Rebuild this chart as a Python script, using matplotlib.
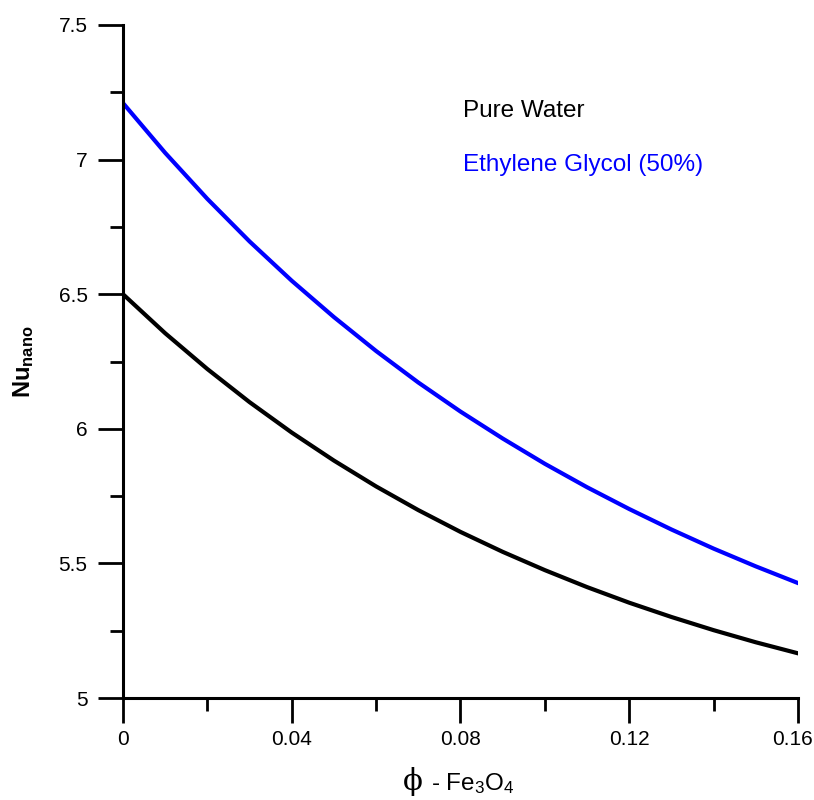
import matplotlib
matplotlib.use("Agg")
import matplotlib.pyplot as plt
import matplotlib.transforms as mtransforms
from matplotlib.ticker import MultipleLocator

plt.rcParams["font.family"] = ["Liberation Sans", "DejaVu Sans"]
plt.rcParams["mathtext.fontset"] = "custom"
plt.rcParams["mathtext.rm"] = "Liberation Sans"
plt.rcParams["mathtext.bf"] = "Liberation Sans:bold"
plt.rcParams["mathtext.it"] = "Liberation Sans:italic"

# volume fraction of Fe3O4
phi = [0.00, 0.01, 0.02, 0.03, 0.04, 0.05, 0.06, 0.07, 0.08,
       0.09, 0.10, 0.11, 0.12, 0.13, 0.14, 0.15, 0.16]
nu_water = [6.500, 6.355, 6.222, 6.099, 5.986, 5.882, 5.786, 5.698, 5.617,
            5.543, 5.475, 5.412, 5.354, 5.301, 5.252, 5.207, 5.166]
nu_glycol = [7.210, 7.025, 6.854, 6.696, 6.550, 6.415, 6.289, 6.172, 6.064,
             5.964, 5.870, 5.783, 5.702, 5.626, 5.555, 5.489, 5.427]

x_ticks = [0, 0.04, 0.08, 0.12, 0.16]
x_labels = ["0", "0.04", "0.08", "0.12", "0.16"]
y_ticks = [5, 5.5, 6, 6.5, 7, 7.5]
y_labels = ["5", "5.5", "6", "6.5", "7", "7.5"]

fig = plt.figure(figsize=(8.14, 8.0), dpi=100)
ax = fig.add_axes([0.1511, 0.1275, 0.8292, 0.84125])

ax.plot(phi, nu_water, color="black", lw=3.0, solid_joinstyle="round")
ax.plot(phi, nu_glycol, color="#0000ff", lw=3.0, solid_joinstyle="round")

ax.set_xlim(0, 0.16)
ax.set_ylim(5, 7.5)
ax.set_xticks(x_ticks)
ax.set_xticklabels(x_labels)
ax.set_yticks(y_ticks)
ax.set_yticklabels(y_labels)
ax.xaxis.set_minor_locator(MultipleLocator(0.02))
ax.yaxis.set_minor_locator(MultipleLocator(0.25))

for side in ("top", "right"):
    ax.spines[side].set_visible(False)
for side in ("left", "bottom"):
    ax.spines[side].set_linewidth(2.2)

ax.tick_params(axis="both", which="major", direction="out", length=18, width=2.0,
               labelsize=15)
ax.tick_params(axis="x", which="major", pad=5)
ax.tick_params(axis="y", which="major", pad=7.5)
ax.tick_params(axis="both", which="minor", direction="out", length=9.5, width=2.0)

# last x label is nudged left so it stays inside the figure
last = ax.get_xticklabels()[-1]
last.set_transform(last.get_transform() + mtransforms.ScaledTranslation(-5 / 100, 0, fig.dpi_scale_trans))

ax.set_ylabel(r"$\mathbf{Nu}_{\mathbf{nano}}$", fontsize=17, labelpad=16)

# x label: serif phi followed by the formula
fig.text(423 / 814, 0.0125, "\u03d5", family="DejaVu Serif", fontsize=21,
         ha="right", va="baseline")
fig.text(431 / 814, 0.0125, r"- Fe$_3$O$_4$", fontsize=17.5, ha="left", va="baseline")

ax.text(0.0806, 7.158, "Pure Water", color="black", fontsize=17.5, va="baseline")
ax.text(0.0806, 6.958, "Ethylene Glycol (50%)", color="#0000ff", fontsize=17.5,
        va="baseline")

fig.savefig("out.png", dpi=100)
